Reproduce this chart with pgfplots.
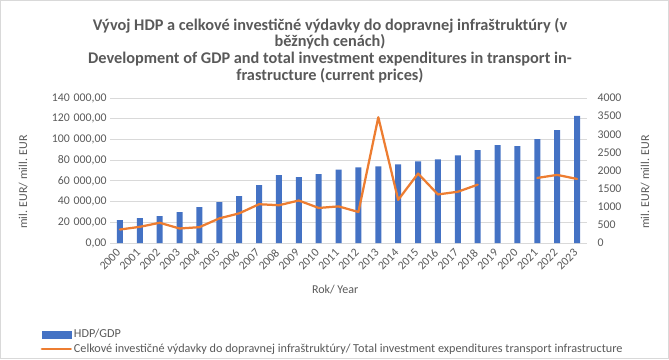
\documentclass[border=0pt]{standalone}
\usepackage{fontspec}
\setmainfont{Carlito}
\usepackage{graphicx}
\usepackage{pgfplots}
\pgfplotsset{compat=1.18}
\definecolor{txt}{HTML}{595959}
\definecolor{bblue}{HTML}{4472C4}
\definecolor{lorange}{HTML}{ED7D31}
\definecolor{gridc}{HTML}{D9D9D9}
\newcommand{\ry}[1]{\rotatebox{45}{#1}}
\begin{document}
\begin{tikzpicture}
\useasboundingbox (0pt,0pt) rectangle (669pt,359pt);
\draw[gridc] (0.5pt,0.5pt) rectangle (668.5pt,358.5pt);
\node[align=center, font=\fontsize{16.3}{16.8}\selectfont\bfseries, text=txt] at (330pt,308.5pt)
 {Vývoj HDP a celkové investičné výdavky do dopravnej infraštruktúry (v\\běžných cenách)\\Development of GDP and total investment expenditures in transport in-\\frastructure (current prices)};
\begin{axis}[
 at={(110pt,116pt)}, anchor=south west, scale only axis, width=477pt, height=145pt,
 xmin=-0.5, xmax=23.5, ymin=0, ymax=140000,
 axis x line*=bottom, axis y line*=left,
 x axis line style={gridc, line width=0.75pt, -},
 y axis line style={draw=none},
 ytick={0,20000,...,140000}, scaled y ticks=false,
 ymajorgrids, grid style={gridc, line width=0.75pt},
 major tick length=0pt,
 xtick={0,...,23},
 xticklabels={\ry{2000},\ry{2001},\ry{2002},\ry{2003},\ry{2004},\ry{2005},\ry{2006},\ry{2007},\ry{2008},\ry{2009},\ry{2010},\ry{2011},\ry{2012},\ry{2013},\ry{2014},\ry{2015},\ry{2016},\ry{2017},\ry{2018},\ry{2019},\ry{2020},\ry{2021},\ry{2022},\ry{2023}},
 xticklabel style={anchor=north east, inner sep=0pt, xshift=1.5pt, yshift=-5pt},
 yticklabel style={/pgf/number format/.cd, fixed, fixed zerofill, precision=2, use comma, 1000 sep={\hspace{3.8pt}}, assume math mode=true},
 ticklabel style={font=\fontsize{11.8}{13}\selectfont, text=txt},
 label style={font=\fontsize{12}{14}\selectfont, text=txt},
 ylabel={mil. EUR/ mill. EUR},
 ylabel style={at={(rel axis cs:-0.182,0.42)}, anchor=center, rotate=0},
 xlabel={Rok/ Year},
 xlabel style={at={(rel axis cs:0.472,-0.32)}, anchor=center},
]
\addplot[ybar, bar width=6pt, fill=bblue, draw=none] coordinates {
(0,22000) (1,24000) (2,25900) (3,29800) (4,34600) (5,39500) (6,45300) (7,56000)
(8,65600) (9,63700) (10,66600) (11,70800) (12,72960) (13,73900) (14,75900) (15,78800)
(16,80800) (17,84700) (18,89600) (19,94500) (20,93500) (21,100300) (22,109100) (23,122800)};
\end{axis}
\begin{axis}[
 at={(110pt,116pt)}, anchor=south west, scale only axis, width=477pt, height=145pt,
 xmin=-0.5, xmax=23.5, ymin=0, ymax=4000,
 axis x line=none, axis y line*=right,
 y axis line style={draw=none},
 ytick={0,500,...,4000}, scaled y ticks=false,
 major tick length=0pt,
 yticklabel style={xshift=7pt, /pgf/number format/.cd, fixed, 1000 sep={}, assume math mode=true},
 ticklabel style={font=\fontsize{11.8}{13}\selectfont, text=txt},
 label style={font=\fontsize{12}{14}\selectfont, text=txt},
 ylabel={mil. EUR/ mill. EUR},
 ylabel style={at={(rel axis cs:1.122,0.42)}, anchor=center},
 unbounded coords=jump,
 legend style={at={(-0.1457,-0.58)}, anchor=north west, draw=none, fill=none,
   font=\fontsize{12.2}{14}\selectfont, text=txt, inner sep=0pt, row sep=0.5pt,
   nodes={inner sep=2pt}},
 legend cell align=left,
]
\addlegendimage{legend image code/.code={\fill[bblue] (0pt,-3.5pt) rectangle (29pt,3.5pt);}}
\addlegendentry{HDP/GDP}
\addplot[lorange, line width=2.25pt, line join=round, line cap=round,
  legend image code/.code={\draw[lorange, line width=2.25pt] (0pt,0pt) -- (29pt,0pt);}] coordinates {
(0,372) (1,446) (2,558) (3,400) (4,437) (5,679) (6,818) (7,1070) (8,1042) (9,1172)
(10,967) (11,1010) (12,856) (13,3469) (14,1190) (15,1916) (16,1339) (17,1414) (18,1609)
(19,nan) (20,nan) (21,1795) (22,1879) (23,1767)};
\addlegendentry{Celkové investičné výdavky do dopravnej infraštruktúry/ Total investment expenditures transport infrastructure}
\end{axis}
\end{tikzpicture}
\end{document}
